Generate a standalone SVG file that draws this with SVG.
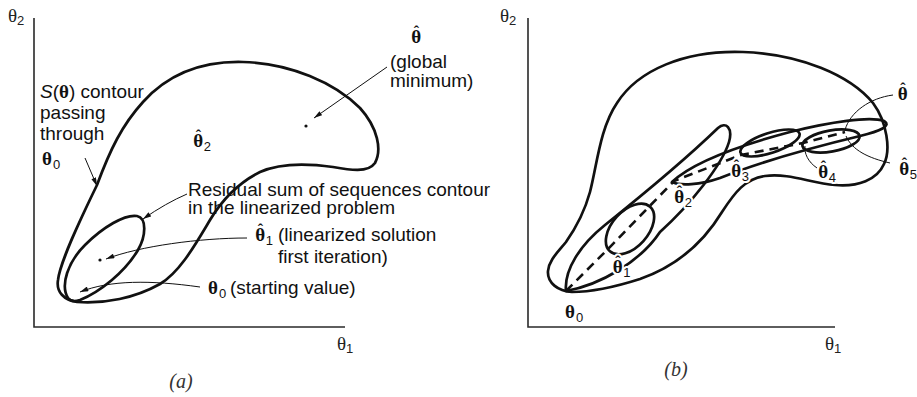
<svg xmlns="http://www.w3.org/2000/svg" width="917" height="397" viewBox="0 0 917 397">
<style>
.ax{stroke:#2a2a2a;stroke-width:1.6;fill:none}
.ct{stroke:#111;stroke-width:2.7;fill:none;stroke-linejoin:round}
.ld{stroke:#111;stroke-width:1;fill:none}
.ds{stroke:#111;stroke-width:2.6;fill:none;stroke-dasharray:9 6}
.t{font-family:"Liberation Sans",Arial,sans-serif;font-size:19px;fill:#111}
.th{font-family:"Liberation Serif","Times New Roman",serif;font-weight:bold;font-size:19px;fill:#111}
.ath{font-family:"Liberation Serif","Times New Roman",serif;font-size:19px;fill:#222}
.sub{font-family:"Liberation Sans",Arial,sans-serif;font-size:13px;font-weight:normal}
.hat{font-family:"Liberation Serif","Times New Roman",serif;font-weight:bold;font-size:16px}
.cap{font-family:"Liberation Serif","Times New Roman",serif;font-style:italic;font-size:20px;fill:#333}
.halo{paint-order:stroke;stroke:#fff;stroke-width:4;stroke-linejoin:round}
</style>
<defs>
<marker id="ah" viewBox="0 0 10 6" refX="10" refY="3" markerWidth="9" markerHeight="5" markerUnits="userSpaceOnUse" orient="auto"><path d="M0,0 L10,3 L0,6 Z" fill="#111"/></marker>
</defs>

<!-- Panel (a) -->
<g id="a-axes">
<path class="ax" d="M34,18 V327 H345"/>
<text class="ath" x="8" y="22">θ<tspan class="sub" dy="3">2</tspan></text>
<text class="ath" x="337" y="350">θ<tspan class="sub" dy="3">1</tspan></text>
<text class="cap" x="181" y="388" text-anchor="middle">(a)</text>
</g>
<g id="a-contour-S">
<path class="ct" d="M77,302 C64,300 56,292 58,280 C60,262 80,220 97,185 C110,150 122,125 143,102 C170,72 205,61 243,62 C290,63 335,83 360,108 C378,128 382,150 375,163 C368,173 350,170 333,167 C305,163 280,163 260,172 C238,183 222,200 210,220 C195,245 180,272 160,284 C135,298 105,304 77,302 Z"/>
<circle cx="306" cy="126" r="1.6" fill="#111"/>
</g>
<g id="a-contour-linear">
<path class="ct" d="M68,298 C60,285 68,262 85,245 C103,227 125,214 137,216 C147,218 146,236 138,250 C125,272 100,292 80,300 C74,302 70,301 68,298 Z"/>
<circle cx="100" cy="260" r="1.6" fill="#111"/>
</g>
<g id="a-label-thetahat">
<text class="th" x="411.3" y="43">θ<tspan class="hat" dx="-7.4" dy="-6">ˆ</tspan></text>
<text class="t" x="390" y="68">(global</text>
<text class="t" x="390" y="87">minimum)</text>
</g>
<g id="a-label-S">
<text class="t" x="40" y="98"><tspan font-style="italic">S</tspan>(<tspan class="th">θ</tspan>) contour</text>
<text class="t" x="40" y="119">passing</text>
<text class="t" x="40" y="140">through</text>
<text class="th" x="42" y="165">θ<tspan class="sub" dx="1" dy="4">0</tspan></text>
</g>
<g id="a-label-theta2">
<text class="th" x="193.3" y="147">θ<tspan class="hat" dx="-7.4" dy="-6">ˆ</tspan><tspan class="sub" dx="2.6" dy="10">2</tspan></text>
</g>
<g id="a-label-residual">
<text class="t" x="188" y="196">Residual sum of sequences contour</text>
<text class="t" x="188" y="214">in the linearized problem</text>
</g>
<g id="a-label-theta1">
<text class="th" x="255.3" y="241">θ<tspan class="hat" dx="-7.4" dy="-6">ˆ</tspan><tspan class="sub" dx="2.6" dy="10">1</tspan></text>
<text class="t" x="278" y="241">(linearized solution</text>
<text class="t" x="278" y="263">first iteration)</text>
</g>
<g id="a-label-theta0">
<text class="th" x="208" y="294">θ<tspan class="sub" dx="1" dy="4">0</tspan></text>
<text class="t" x="230" y="294">(starting value)</text>
</g>

<!-- Panel (b) -->
<g id="b-axes">
<path class="ax" d="M528,18 V327 H835"/>
<text class="ath" x="500" y="22">θ<tspan class="sub" dy="3">2</tspan></text>
<text class="ath" x="825" y="350">θ<tspan class="sub" dy="3">1</tspan></text>
<text class="cap" x="676" y="376" text-anchor="middle">(b)</text>
</g>
<g id="b-contour-S">
<path class="ct" d="M572,292 C558,291 547,283 548,271 C549,260 558,252 566,242 C578,225 585,210 590,192 C597,165 600,128 617,103 C638,70 685,50 743,52 C800,54 850,75 873,103 C887,122 891,150 884,164 C877,180 858,187 835,185 C810,183 790,173 765,176 C745,179 735,192 722,212 C705,240 680,265 640,279 C615,287 590,292 572,292 Z"/>
</g>
<g id="b-contour-0">
<path class="ct" d="M566,291 C564,270 580,245 605,225 C640,197 690,155 718,128 C726,121 733,128 729,142 C722,165 690,205 660,232 C640,262 600,285 566,291 Z"/>
</g>
<g id="b-contour-1">
<ellipse class="ct" cx="630" cy="229" rx="30" ry="18" transform="rotate(-48 630 229)"/>
</g>
<g id="b-contour-2">
<path class="ct" d="M672,182 C690,165 730,148 790,132 C830,122 870,116 884,121 C892,126 880,131 860,136 C810,148 760,162 720,178 C700,185 680,186 672,182 Z"/>
</g>
<g id="b-contour-3">
<ellipse class="ct" cx="770" cy="143" rx="31" ry="10" transform="rotate(-18 770 143)"/>
</g>
<g id="b-contour-4">
<ellipse class="ct" cx="831" cy="141" rx="29" ry="10.5" transform="rotate(-10 831 141)"/>
</g>

<g id="connectors">
<path class="ld" d="M387,67 L314,118" marker-end="url(#ah)"/>
<path class="ld" d="M85,158 L97,186" marker-end="url(#ah)"/>
<path class="ld" d="M187,194 Q166,203 143,219" marker-end="url(#ah)"/>
<path class="ld" d="M247,238 C200,238 140,246 106,259" marker-end="url(#ah)"/>
<path class="ld" d="M200,287 C150,280 110,280 80,292" marker-end="url(#ah)"/>
<path class="ds" d="M566,291 L608,249 L674,181 L741,155 L803,143 L845,132"/>
<path class="ld" d="M893,95 C870,98 850,112 845,130"/>
<path class="ld" d="M890,163 C868,158 852,150 846,136"/>
<path class="ld" d="M817,168 C808,162 804,153 805,146"/>
</g>

<g id="b-label-theta0">
<text class="th" x="565" y="318">θ<tspan class="sub" dx="1" dy="4">0</tspan></text>
</g>
<g id="b-label-theta1">
<text class="th halo" x="612.8" y="273">θ<tspan class="hat" dx="-7.4" dy="-6">ˆ</tspan><tspan class="sub" dx="2.6" dy="10">1</tspan></text>
</g>
<g id="b-label-theta2">
<text class="th halo" x="674.3" y="203">θ<tspan class="hat" dx="-7.4" dy="-6">ˆ</tspan><tspan class="sub" dx="2.6" dy="10">2</tspan></text>
</g>
<g id="b-label-theta3">
<text class="th halo" x="731.3" y="177">θ<tspan class="hat" dx="-7.4" dy="-6">ˆ</tspan><tspan class="sub" dx="2.6" dy="10">3</tspan></text>
</g>
<g id="b-label-theta4">
<text class="th halo" x="818.3" y="178">θ<tspan class="hat" dx="-7.4" dy="-6">ˆ</tspan><tspan class="sub" dx="2.6" dy="10">4</tspan></text>
</g>
<g id="b-label-theta5">
<text class="th" x="899.3" y="175">θ<tspan class="hat" dx="-7.4" dy="-6">ˆ</tspan><tspan class="sub" dx="2.6" dy="10">5</tspan></text>
</g>
<g id="b-label-thetahat">
<text class="th" x="897.8" y="100">θ<tspan class="hat" dx="-7.4" dy="-6">ˆ</tspan></text>
</g>
</svg>
